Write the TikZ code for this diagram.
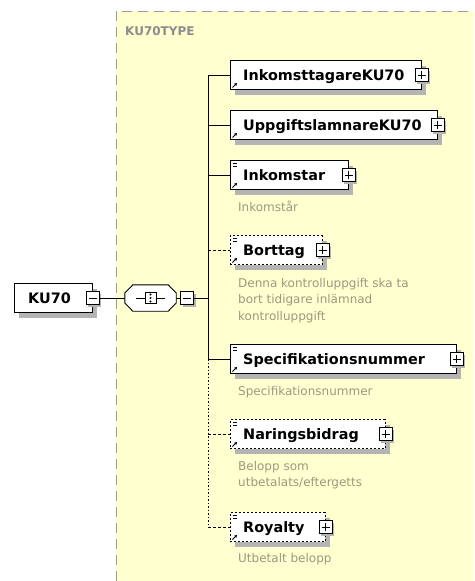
\documentclass[tikz,border=0pt]{standalone}
\usepackage{fontspec}
\setmainfont{DejaVu Sans}
\usetikzlibrary{shadows,arrows.meta}
\definecolor{yel}{HTML}{FFFFD0}
\definecolor{bordc}{HTML}{9A9A9A}
\definecolor{descc}{HTML}{9A9A80}
\definecolor{shc}{HTML}{B4B4B4}
\definecolor{typec}{HTML}{8C8C8C}
\tikzset{
 elbox/.style={draw=black, line width=0.9pt, fill=white, minimum height=29pt, inner sep=0pt,
   drop shadow={shadow xshift=5pt, shadow yshift=-5pt, fill=shc, opacity=1}},
 dashbox/.style={dash pattern=on 2pt off 2pt},
 eltext/.style={font=\fontsize{14.4}{17}\selectfont\bfseries, inner sep=0pt},
 desc/.style={font=\fontsize{12}{16.5}\selectfont, text=descc, align=left, inner sep=0pt},
 pbox/.style={draw=black, line width=0.9pt, fill=white, minimum size=13pt, inner sep=0pt,
   drop shadow={shadow xshift=2pt, shadow yshift=-2pt, fill=shc, opacity=1}},
 conn/.style={line width=0.9pt},
 dconn/.style={line width=0.9pt, dash pattern=on 3pt off 2pt},
 tconn/.style={line width=0.9pt, dash pattern=on 1.5pt off 2pt},
 icon/.style={line width=0.9pt},
}
\newcommand{\xplus}[1]{%
  \draw[line width=0.9pt] ([xshift=3pt]#1.west) -- ([xshift=-3pt]#1.east);
  \draw[line width=0.9pt] ([yshift=-3pt]#1.north) -- ([yshift=3pt]#1.south);}
\newcommand{\xminus}[1]{%
  \draw[line width=0.9pt] ([xshift=3pt]#1.west) -- ([xshift=-3pt]#1.east);}
\newcommand{\xref}[2]{% x, y of bottom-left corner of box
  \draw[icon,-{Stealth[length=3pt,width=3.5pt]}] (#1+2.5,#2-2) -- (#1+7,#2-6.5);}
\newcommand{\xsimple}[2]{% x, y of top-left corner of box
  \draw[line width=0.8pt] (#1+2.5,#2+3) -- (#1+7,#2+3) (#1+2.5,#2+5.5) -- (#1+7,#2+5.5);}
% name, width, cy, label, extra style, simple flag
\newcommand{\xelem}[6]{%
  \node[elbox,#5,minimum width=#2pt,anchor=west] (#1) at (230,#3) {};
  \node[eltext,anchor=base west] (#1-t) at (243,#3+5) {#4};
  \node[pbox] (#1-p) at (#1.east) {};
  \xplus{#1-p}
  \xref{230}{#3+14.5}
  \ifnum#6=1 \xsimple{230}{#3-14.5}\fi}
\newcommand{\xoct}{([yshift=5pt]seq.west) -- ([xshift=8pt]seq.north west) -- ([xshift=-8pt]seq.north east) -- ([yshift=5pt]seq.east) -- ([yshift=-5pt]seq.east) -- ([xshift=-8pt]seq.south east) -- ([xshift=8pt]seq.south west) -- ([yshift=-5pt]seq.west) -- cycle}
\begin{document}
\begin{tikzpicture}[x=1pt,y=-1pt]
\useasboundingbox (0,0) rectangle (474,581);
% type region
\fill[yel] (116,11) rectangle (474,581);
\draw[bordc,line width=1pt,dash pattern=on 10pt off 6pt] (116,581) -- (116,11) -- (474,11);
\node[font=\fontsize{12}{14}\selectfont\bfseries, text=typec, anchor=base west, inner sep=0pt] (typ) at (125,35) {KU70TYPE};

% root element
\node[elbox,minimum width=78pt,anchor=west] (ku) at (14,298) {};
\node[eltext,anchor=base west] (ku-t) at (28,303) {KU70};
\node[pbox] (ku-m) at (ku.east) {};
\xminus{ku-m}

% compositor
\node[minimum width=51pt,minimum height=26pt,inner sep=0pt] (seq) at (150.5,298) {};
\fill[shc,shift={(4pt,-4pt)}] \xoct;
\draw[line width=0.9pt,fill=white] \xoct;
\draw[line width=0.9pt] (136,298) -- (165,298);
\draw[line width=0.9pt,fill=white] (145,292.5) rectangle (156,303.5);
\fill (150.5,294.5) circle (1.1pt) (150.5,298) circle (1.1pt) (150.5,301.5) circle (1.1pt);
\node[pbox] (seq-m) at (187,298) {};
\xminus{seq-m}

\draw[conn] (ku-m) -- (seq);
\draw[conn] (seq) -- (seq-m);

% trunk
\coordinate (t0) at (208,298);
\coordinate (t1) at (208,75);
\coordinate (t2) at (208,125);
\coordinate (t3) at (208,175);
\coordinate (t4) at (208,250);
\coordinate (t5) at (208,359);
\coordinate (t6) at (208,434);
\coordinate (t7) at (208,527);
\draw[conn] (seq-m) -- (t0);
\draw[conn] (t1) -- (t5);
\draw[tconn] (t5) -- (t7);

% children
\xelem{e1}{191}{75}{InkomsttagareKU70}{}{0}
\xelem{e2}{207}{125}{UppgiftslamnareKU70}{}{0}
\xelem{e3}{118}{175}{Inkomstar}{}{1}
\xelem{e4}{92}{250}{Borttag}{dashbox}{1}
\xelem{e5}{226}{359}{Specifikationsnummer}{}{1}
\xelem{e6}{155}{434}{Naringsbidrag}{dashbox}{1}
\xelem{e7}{95}{527}{Royalty}{dashbox}{1}

\draw[conn] (t1) -- (e1);
\draw[conn] (t2) -- (e2);
\draw[conn] (t3) -- (e3);
\draw[dconn] (t4) -- (e4);
\draw[conn] (t5) -- (e5);
\draw[dconn] (t6) -- (e6);
\draw[dconn] (t7) -- (e7);

% descriptions
\node[desc,anchor=north west] (d3) at (238,201) {Inkomstår};
\node[desc,anchor=north west] (d4) at (238,278) {Denna kontrolluppgift ska ta\\bort tidigare inlämnad\\kontrolluppgift};
\node[desc,anchor=north west] (d5) at (238,386) {Specifikationsnummer};
\node[desc,anchor=north west] (d6) at (238,461) {Belopp som\\utbetalats/eftergetts};
\node[desc,anchor=north west] (d7) at (238,553) {Utbetalt belopp};
\end{tikzpicture}
\end{document}
